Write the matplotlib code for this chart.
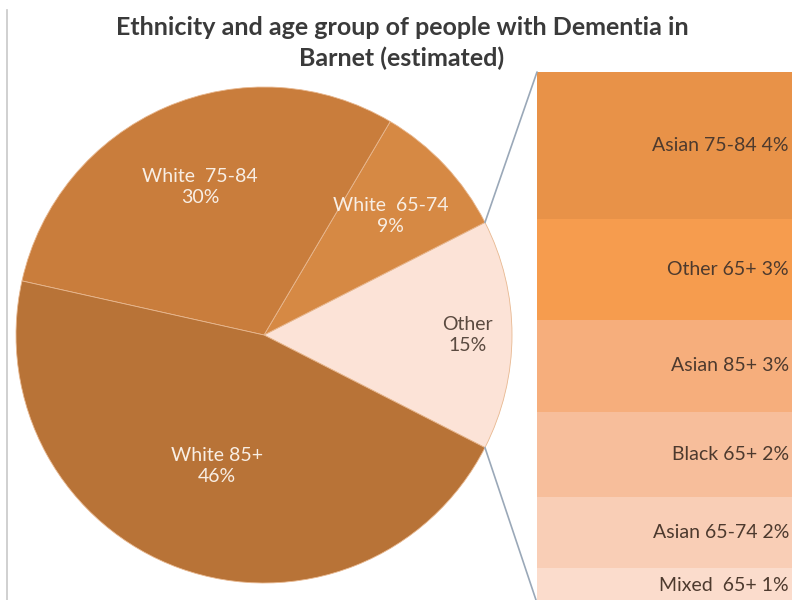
import numpy as np
import matplotlib.pyplot as plt
from matplotlib.patches import ConnectionPatch
from matplotlib.lines import Line2D

plt.rcParams['font.family'] = ['Lato', 'DejaVu Sans']

#-------------------------------- DATA -------------------------------------
pie_labels = ['Other', 'White  65-74', 'White  75-84', 'White 85+']
pie_values = [15, 9, 30, 46]
pie_colors = ['#FCE3D7', '#D68944', '#C97D3C', '#B87337']
pie_text_colors = ['#5A4A40', '#F8EEE4', '#F8EEE4', '#F8EEE4']

bar_labels = ['Asian 75-84', 'Other 65+', 'Asian 85+', 'Black 65+', 'Asian 65-74', 'Mixed  65+']
bar_values = [4.15, 2.85, 2.6, 2.4, 2.0, 1.0]
bar_colors = ['#E89248', '#F69C4E', '#F6AE7C', '#F7BE9B', '#F9CEB6', '#FBDCCC']

title = 'Ethnicity and age group of people with Dementia in\nBarnet (estimated)'

#-------------------------------- LAYOUT -------------------------------------
W, H = 792, 600
fig = plt.figure(figsize=(W / 100, H / 100), dpi=100)
fig.patch.set_facecolor('white')

# pie axes: whole figure, one unit = one pixel
ax = fig.add_axes([0, 0, 1, 1])
center = (264, 265)
radius = 248
wedges, _ = ax.pie(pie_values, colors=pie_colors, startangle=-27, counterclock=True,
                   center=center, radius=radius, frame=True,
                   wedgeprops=dict(edgecolor='#E8B890', linewidth=0.6))
ax.set_xlim(0, W)
ax.set_ylim(0, H)
ax.set_aspect('equal')
ax.axis('off')

# labels inside the wedges
label_dist = [0.82, 0.70, 0.65, 0.56]
for w, lab, val, d, c in zip(wedges, pie_labels, pie_values, label_dist, pie_text_colors):
    ang = np.deg2rad((w.theta1 + w.theta2) / 2)
    x = center[0] + d * radius * np.cos(ang)
    y = center[1] + d * radius * np.sin(ang)
    ax.text(x, y, '%s\n%d%%' % (lab, val), ha='center', va='center',
            fontsize=14, color=c, linespacing=1.3)

#-------------------------------- STACKED BAR --------------------------------
bx0 = 537
top_px, bot_px = 72, 603
bw = W + 20 - bx0
bax = fig.add_axes([bx0 / W, (H - bot_px) / H, bw / W, (bot_px - top_px) / H])
total = sum(bar_values)
bax.set_xlim(0, 1)
bax.set_ylim(total, 0)
bax.axis('off')

bottom = 0
for lab, val, col in zip(bar_labels, bar_values, bar_colors):
    bax.bar(0.5, val, width=1, bottom=bottom, color=col, edgecolor='none')
    bax.text((789 - bx0) / bw, bottom + val / 2, '%s %d%%' % (lab, round(val)),
             ha='right', va='center', fontsize=14, color='#4D3A2E')
    bottom += val

# connector lines from the "Other" wedge to the bar
other = wedges[0]
for ang, yb in [(other.theta2, 0), (other.theta1, total)]:
    a = np.deg2rad(ang)
    px = center[0] + radius * np.cos(a)
    py = center[1] + radius * np.sin(a)
    con = ConnectionPatch(xyA=(px, py), coordsA=ax.transData,
                          xyB=(0, yb), coordsB=bax.transData,
                          color='#9AA8B8', linewidth=1.2)
    fig.add_artist(con)

#-------------------------------- TITLE -------------------------------------
fig.text(402 / W, 1 - 43 / H, title, ha='center', va='center', fontsize=18,
         fontweight='bold', color='#3A3A3A', linespacing=1.35)

# thin frame line on the left
fig.add_artist(Line2D([7 / W, 7 / W], [0, 1 - 10 / H], color='#C8C8C8', linewidth=1.2))

plt.savefig('out.png', dpi=100, facecolor='white')
